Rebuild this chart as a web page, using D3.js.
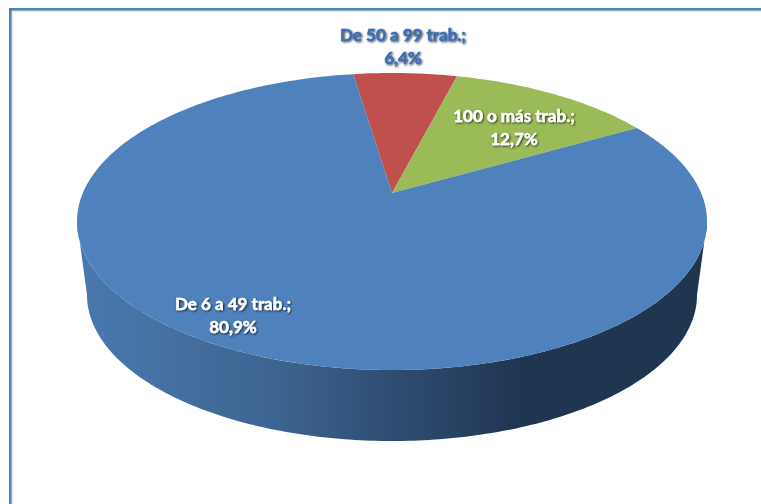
<!DOCTYPE html>
<html>
<head>
<meta charset="utf-8">
<script src="https://cdn.jsdelivr.net/npm/d3@7"></script>
<style>
  html, body { margin: 0; padding: 0; background: #fff; overflow: hidden; }
  text { font-family: Lato, "Open Sans", sans-serif; font-weight: 700; font-size: 17px; text-anchor: middle; stroke-width: 0.45px; }
</style>
</head>
<body>
<div id="chart"></div>
<script>
const categories = ['De 50 a 99 trab.', '100 o más trab.', 'De 6 a 49 trab.'];
const shares = [6.4, 12.7, 80.9];
const sliceColors = ['#c0504d', '#9bbb59', '#4f81bd'];
const labelColors = ['#3b6db5', '#ffffff', '#ffffff'];
const labelSpots = [[403, 41], [514, 122], [233, 310]];

const width = 761, height = 504;

// top face and bottom rim of the disc, in screen pixels
const top_ = {cx: 392, cy: 221.5, rx: 315, ry: 148.5};
const rim = {cx: 392, cy: 295, rx: 305, ry: 146};
// perspective pushes the pie's centre up from the middle of the ellipse
const tilt = -0.192;
const firstAngle = -8.6 * Math.PI / 180;

function project(a, e, r = 1) {
    const u = r * Math.sin(a), v = -r * Math.cos(a);
    const w = 1 + tilt * v;
    return [
        e.cx + e.rx * Math.sqrt(1 - tilt * tilt) * u / w,
        e.cy + e.ry * (v + tilt) / w
    ];
}

function drawChart() {
    const svg = d3.select('#chart').append('svg')
        .attr('width', width)
        .attr('height', height);

    const defs = svg.append('defs');

    const grad = defs.append('linearGradient')
        .attr('id', 'wall')
        .attr('gradientUnits', 'userSpaceOnUse')
        .attr('x1', rim.cx - rim.rx).attr('x2', rim.cx + rim.rx)
        .attr('y1', 0).attr('y2', 0);
    [[0, '#4a78ad'], [0.3, '#3e6592'], [0.5, '#2f4d72'], [0.72, '#1f3550'], [1, '#1f3550']]
        .forEach(function (d) {
            grad.append('stop').attr('offset', d[0]).attr('stop-color', d[1]);
        });

    defs.append('filter').attr('id', 'lift')
        .attr('x', '-10%').attr('y', '-20%').attr('width', '120%').attr('height', '150%')
        .append('feDropShadow')
        .attr('dx', 1).attr('dy', 1).attr('stdDeviation', 0.9)
        .attr('flood-color', '#000').attr('flood-opacity', 0.75);

    // frame
    svg.append('rect').attr('x', 11).attr('y', 10).attr('width', width).attr('height', 1.5).attr('fill', '#d4d4d4');
    svg.append('rect').attr('x', 11).attr('y', 10).attr('width', 1.5).attr('height', height).attr('fill', '#d4d4d4');
    svg.append('rect').attr('x', 9).attr('y', 8).attr('width', width).attr('height', 2.5).attr('fill', '#4f81bd');
    svg.append('rect').attr('x', 9).attr('y', 8).attr('width', 2.5).attr('height', height).attr('fill', '#4f81bd');

    const line = d3.line();

    // side wall: lower half of the rim, then back along the top face
    const wallSteps = d3.range(0, 181).map(function (d) { return Math.PI / 2 + d * Math.PI / 180; });
    const lowerRim = wallSteps.map(function (a) {
        return [rim.cx + rim.rx * Math.sin(a), rim.cy - rim.ry * Math.cos(a)];
    });
    const topEdge = wallSteps.slice().reverse().map(function (a) {
        return [top_.cx + top_.rx * Math.sin(a), top_.cy - top_.ry * Math.cos(a)];
    });
    svg.append('path')
        .attr('d', line(lowerRim.concat(topEdge)) + 'Z')
        .attr('fill', 'url(#wall)');

    const pie = d3.pie()
        .sort(null)
        .startAngle(firstAngle)
        .endAngle(firstAngle + 2 * Math.PI);
    const slices = pie(shares);

    svg.append('g').selectAll('path')
        .data(slices)
        .enter()
        .append('path')
        .attr('d', function (d) {
            const n = Math.ceil((d.endAngle - d.startAngle) * 60);
            const edge = d3.range(n + 1).map(function (i) {
                return project(d.startAngle + (d.endAngle - d.startAngle) * i / n, top_);
            });
            return line([project(0, top_, 0)].concat(edge)) + 'Z';
        })
        .attr('fill', function (d, i) { return sliceColors[i]; });

    const labels = svg.append('g').attr('filter', 'url(#lift)').selectAll('text')
        .data(categories)
        .enter()
        .append('text')
        .attr('x', function (d, i) { return labelSpots[i][0]; })
        .attr('y', function (d, i) { return labelSpots[i][1]; })
        .attr('fill', function (d, i) { return labelColors[i]; })
        .attr('stroke', function (d, i) { return labelColors[i]; });
    labels.append('tspan').text(function (d) { return d + ';'; });
    labels.append('tspan')
        .attr('x', function (d, i) { return labelSpots[i][0]; })
        .attr('dy', 22.5)
        .text(function (d, i) { return String(shares[i]).replace('.', ',') + '%'; });
}

drawChart();
</script>
</body>
</html>
